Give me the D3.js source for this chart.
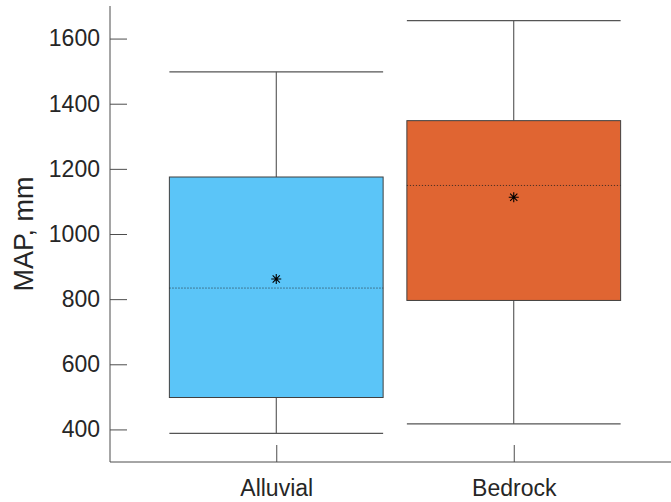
<!DOCTYPE html>
<html>
<head>
<meta charset="utf-8">
<script src="https://cdn.jsdelivr.net/npm/d3@7"></script>
<style>
  html, body { margin: 0; padding: 0; background: #fff; }
  svg { display: block; font-family: "Liberation Sans", Arial, sans-serif; }
</style>
</head>
<body>
<svg id="chart" width="671" height="502"></svg>
<script>
const categories = ["Alluvial", "Bedrock"];
const whiskerLow = [388, 417];
const q1 = [498, 796];
const medians = [834, 1149];
const q3 = [1175, 1348];
const whiskerHigh = [1498, 1655];
const means = [862, 1113];
const boxColors = ["#5BC5F8", "#E06532"];
const yTicks = [400, 600, 800, 1000, 1200, 1400, 1600];
const yLabel = "MAP, mm";

const svg = d3.select("#chart");
const mLeft = 110, mRight = 680, mTop = 6, mBottom = 462;
const x = d3.scaleLinear().domain([0.3, 2.7]).range([mLeft, mRight]);
const y = d3.scaleLinear().domain([300, 1700]).range([mBottom, mTop]);
const axisColor = "#4d4d4d";
const halfW = 0.45;

categories.forEach((c, i) => {
  const cx = i + 1;
  const g = svg.append("g");
  g.append("line").attr("x1", x(cx)).attr("x2", x(cx)).attr("y1", y(whiskerHigh[i])).attr("y2", y(q3[i]))
    .attr("stroke", "#404040").attr("stroke-width", 1);
  g.append("line").attr("x1", x(cx)).attr("x2", x(cx)).attr("y1", y(q1[i])).attr("y2", y(whiskerLow[i]))
    .attr("stroke", "#404040").attr("stroke-width", 1);
  [whiskerHigh[i], whiskerLow[i]].forEach(v => {
    g.append("line").attr("x1", x(cx - halfW)).attr("x2", x(cx + halfW)).attr("y1", y(v)).attr("y2", y(v))
      .attr("stroke", "#555").attr("stroke-width", 1.2);
  });
  g.append("rect").attr("x", x(cx - halfW)).attr("width", x(cx + halfW) - x(cx - halfW))
    .attr("y", y(q3[i])).attr("height", y(q1[i]) - y(q3[i]))
    .attr("fill", boxColors[i]).attr("stroke", "#404040").attr("stroke-width", 1);
  g.append("line").attr("x1", x(cx - halfW)).attr("x2", x(cx + halfW)).attr("y1", y(medians[i])).attr("y2", y(medians[i]))
    .attr("stroke", "#202020").attr("stroke-opacity", 0.75).attr("stroke-width", 1).attr("stroke-dasharray", "1.2,1.8");
  const mx = x(cx), my = y(means[i]), r = 5, d = r * 0.72;
  const p = `M${mx - r},${my}L${mx + r},${my}M${mx},${my - r}L${mx},${my + r}` +
            `M${mx - d},${my - d}L${mx + d},${my + d}M${mx - d},${my + d}L${mx + d},${my - d}`;
  g.append("path").attr("d", p).attr("stroke", "#000").attr("stroke-width", 1.1).attr("fill", "none");
});

const yAxis = svg.append("g").attr("transform", `translate(${mLeft},0)`)
  .call(d3.axisLeft(y).tickValues(yTicks).tickSize(-17).tickPadding(10).tickFormat(d3.format("d")));
const xAxis = svg.append("g").attr("transform", `translate(0,${mBottom})`)
  .call(d3.axisBottom(x).tickValues([1, 2]).tickSize(-17).tickPadding(18).tickFormat((d) => categories[d - 1]));
[yAxis, xAxis].forEach(a => {
  a.select(".domain").remove();
  a.selectAll(".tick line").attr("stroke", axisColor).attr("stroke-width", 1);
  a.selectAll(".tick text").attr("fill", "#262626").style("font-size", "23px")
    .style("font-family", "'Liberation Sans', Arial, sans-serif");
});
svg.append("line").attr("x1", mLeft).attr("x2", mLeft).attr("y1", mTop).attr("y2", mBottom).attr("stroke", axisColor);
svg.append("line").attr("x1", mLeft).attr("x2", mRight).attr("y1", mBottom).attr("y2", mBottom).attr("stroke", axisColor);

svg.append("text").attr("transform", `translate(33,${(mTop + mBottom) / 2}) rotate(-90)`)
  .attr("text-anchor", "middle").attr("fill", "#262626").style("font-size", "27px").text(yLabel);
</script>
</body>
</html>
